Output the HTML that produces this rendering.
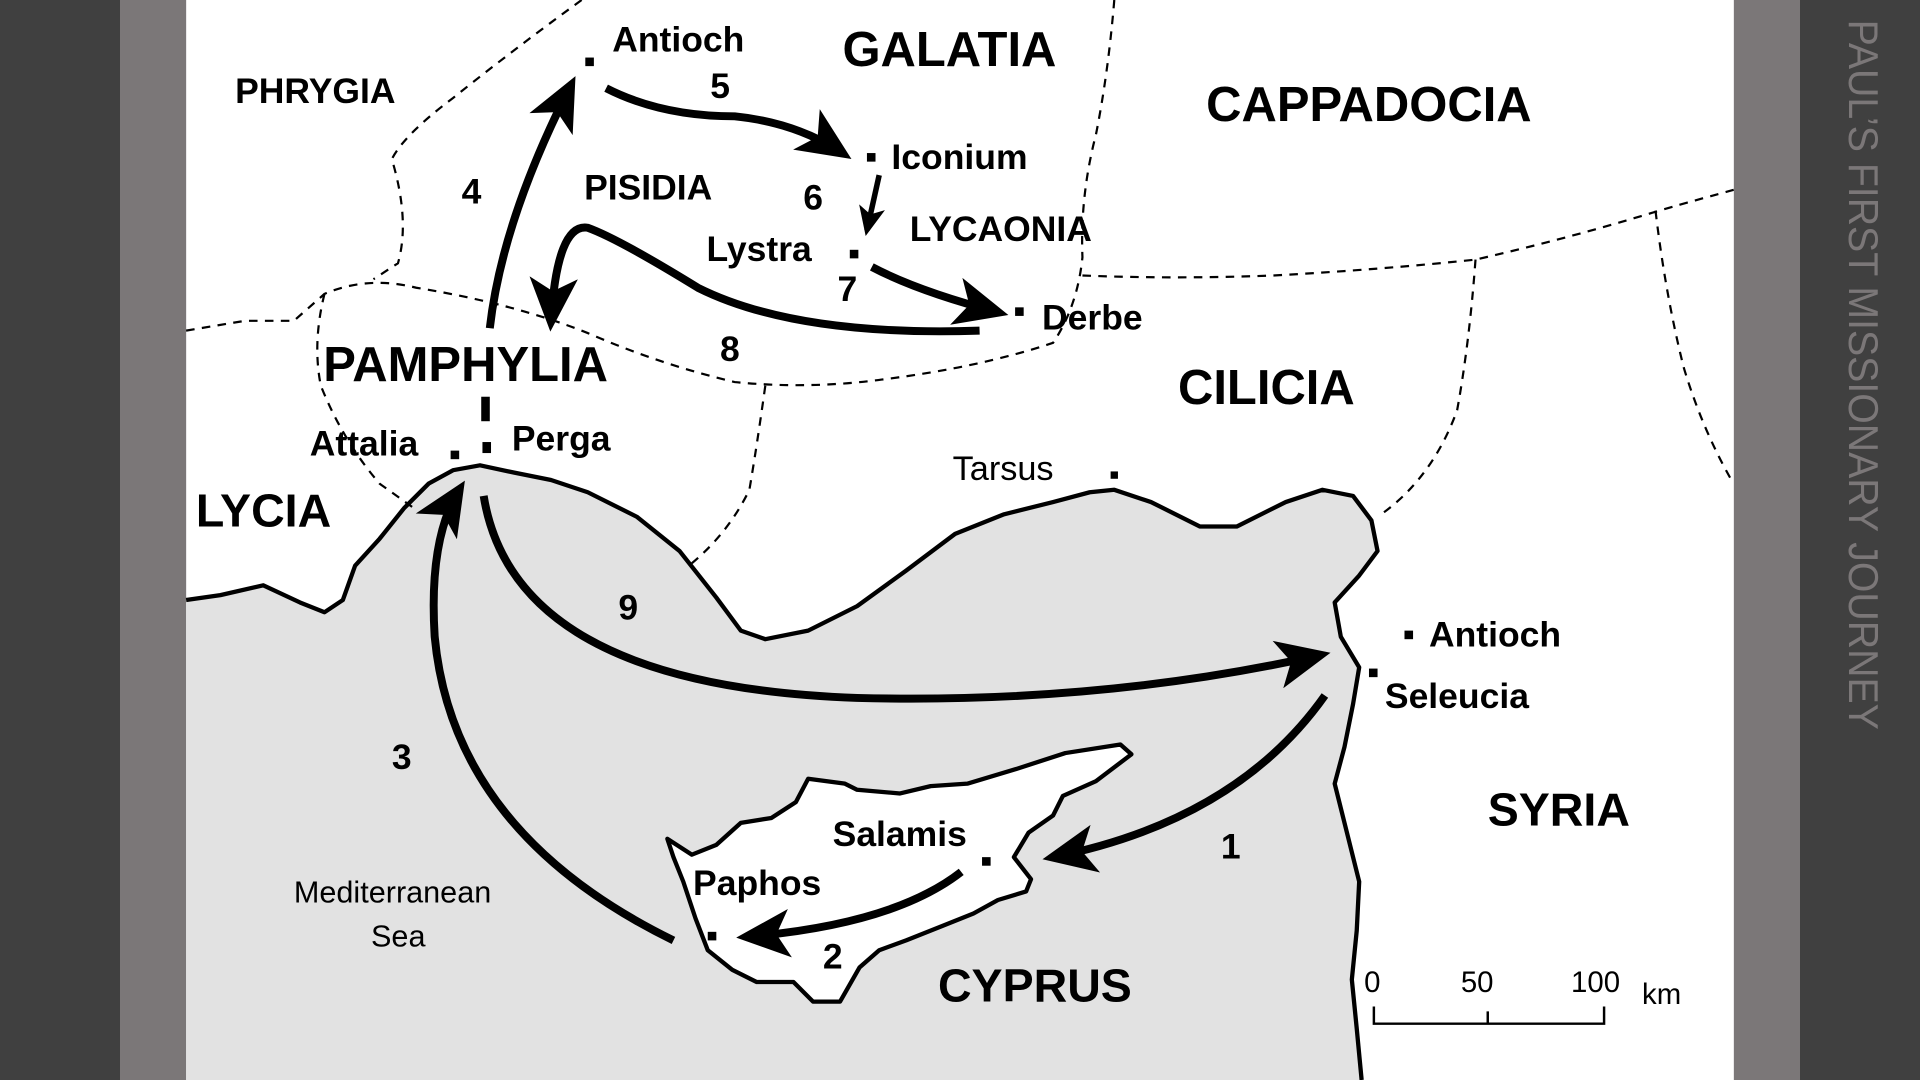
<!DOCTYPE html>
<html><head><meta charset="utf-8"><style>
html,body{margin:0;padding:0;background:#404040;}
svg{display:block}
text{font-family:"Liberation Sans",Arial,sans-serif;font-weight:bold;fill:#000}
.r{font-weight:normal}
</style></head><body>
<svg width="1920" height="1080" viewBox="0 0 1568 882" xmlns="http://www.w3.org/2000/svg">
<defs>
<marker id="ah" viewBox="0 0 10 10" refX="8" refY="5" markerWidth="44" markerHeight="44" orient="auto" markerUnits="userSpaceOnUse">
<path d="M0,0.5 L10,5 L0,9.5 L2.5,5 z" fill="#000"/>
</marker>
<marker id="ahs" viewBox="0 0 10 10" refX="8" refY="5" markerWidth="24" markerHeight="24" orient="auto" markerUnits="userSpaceOnUse">
<path d="M0,0.5 L10,5 L0,9.5 L2.5,5 z" fill="#000"/>
</marker>
</defs>
<rect x="0" y="0" width="1568" height="882" fill="#404040"/>
<rect x="98" y="0" width="54" height="882" fill="#7b7778"/>
<rect x="1416" y="0" width="54" height="882" fill="#7b7778"/>
<rect x="152" y="0" width="1264" height="882" fill="#fff"/>
<!-- sea -->
<path id="coast" d="M152,490 L180,486 L215,478 L245,492 L265,500 L280,490 L290,462 L310,440 L330,415 L350,395 L370,384 L392,380 L420,386 L450,392 L480,402 L520,422 L555,450 L585,488 L605,515 L625,522 L660,515 L700,495 L740,466 L780,436 L820,420 L860,410 L890,402 L910,400 L940,410 L980,430 L1010,430 L1050,410 L1080,400 L1105,405 L1120,425 L1125,450 L1110,470 L1090,492 L1095,520 L1110,545 L1105,575 L1098,610 L1090,640 L1100,680 L1110,720 L1108,760 L1104,800 L1108,840 L1112,882" fill="none"/>
<path d="M152,490 L180,486 L215,478 L245,492 L265,500 L280,490 L290,462 L310,440 L330,415 L350,395 L370,384 L392,380 L420,386 L450,392 L480,402 L520,422 L555,450 L585,488 L605,515 L625,522 L660,515 L700,495 L740,466 L780,436 L820,420 L860,410 L890,402 L910,400 L940,410 L980,430 L1010,430 L1050,410 L1080,400 L1105,405 L1120,425 L1125,450 L1110,470 L1090,492 L1095,520 L1110,545 L1105,575 L1098,610 L1090,640 L1100,680 L1110,720 L1108,760 L1104,800 L1108,840 L1112,882 L152,882 Z" fill="#e2e2e2"/>
<path d="M152,490 L180,486 L215,478 L245,492 L265,500 L280,490 L290,462 L310,440 L330,415 L350,395 L370,384 L392,380 L420,386 L450,392 L480,402 L520,422 L555,450 L585,488 L605,515 L625,522 L660,515 L700,495 L740,466 L780,436 L820,420 L860,410 L890,402 L910,400 L940,410 L980,430 L1010,430 L1050,410 L1080,400 L1105,405 L1120,425 L1125,450 L1110,470 L1090,492 L1095,520 L1110,545 L1105,575 L1098,610 L1090,640 L1100,680 L1110,720 L1108,760 L1104,800 L1108,840 L1112,882" fill="none" stroke="#000" stroke-width="3.5" stroke-linejoin="round"/>
<!-- Cyprus -->
<path d="M545,685 L565,698 L585,690 L605,672 L630,668 L650,655 L660,636 L690,640 L700,645 L735,648 L760,642 L790,640 L830,628 L870,615 L915,608 L924,616 L895,638 L868,650 L860,666 L840,680 L828,700 L842,718 L838,728 L815,735 L795,746 L770,756 L740,768 L718,776 L702,790 L686,818 L664,818 L648,802 L618,802 L598,792 L578,776 L568,750 L558,720 L550,700 Z" fill="#fff" stroke="#000" stroke-width="3.5" stroke-linejoin="round"/>
<!-- borders -->
<g fill="none" stroke="#000" stroke-width="1.8" stroke-dasharray="7,6">
<path d="M475,0 Q420,40 370,80 Q330,110 320,130 Q335,180 325,215 L305,228"/>
<path d="M152,270 L200,262 L240,262 L265,240 Q300,225 340,235 Q420,248 480,272 Q540,298 600,312 Q660,318 720,310 Q800,300 860,280 Q880,250 884,210 Q882,160 895,110 Q905,60 910,0"/>
<path d="M265,240 Q255,280 262,315 Q280,360 310,395 L338,415"/>
<path d="M625,315 Q618,365 612,400 Q595,435 565,460"/>
<path d="M884,225 Q960,228 1040,225 Q1130,220 1205,212 Q1280,195 1355,172 Q1390,162 1416,155"/>
<path d="M1205,212 Q1200,280 1190,335 Q1170,390 1128,420"/>
<path d="M1352,172 Q1360,240 1375,300 Q1390,350 1414,392"/>
</g>
<!-- arrows -->
<g fill="none" stroke="#000" stroke-width="6.5" stroke-linecap="butt">
<path d="M1082,568 Q1010,670 860,700" marker-end="url(#ah)"/>
<path d="M785,712 Q730,755 610,765" marker-end="url(#ah)"/>
<path d="M550,768 Q370,680 355,520 Q350,440 375,400" marker-end="url(#ah)"/>
<path d="M400,268 Q410,180 466,70" marker-end="url(#ah)"/>
<path d="M495,72 Q540,95 600,95 Q650,100 688,125" marker-end="url(#ah)"/>
<path d="M718,143 L708,188" marker-end="url(#ahs)" stroke-width="4.5"/>
<path d="M712,218 Q750,238 815,255" marker-end="url(#ah)"/>
<path d="M800,270 Q650,275 570,235 Q505,195 480,186 Q455,182 450,262" marker-end="url(#ah)"/>
<path d="M395,405 Q420,560 700,570 Q900,575 1078,535" marker-end="url(#ah)"/>
</g>
<!-- dashed route at Perga -->
<rect x="393" y="324" width="7" height="20" fill="#000"/>
<rect x="394" y="361" width="7" height="9" fill="#000"/>
<!-- city dots -->
<g fill="#000">
<rect x="478" y="47" width="7" height="7"/>
<rect x="708" y="125" width="7" height="7"/>
<rect x="694" y="204" width="7" height="7"/>
<rect x="829" y="251" width="7" height="7"/>
<rect x="368" y="368" width="7" height="7"/>
<rect x="907" y="385" width="6" height="6"/>
<rect x="1147" y="515" width="7" height="7"/>
<rect x="1118" y="546" width="7" height="7"/>
<rect x="802" y="700" width="7" height="7"/>
<rect x="578" y="761" width="7" height="7"/>
</g>
<!-- labels -->
<text x="192" y="84" font-size="29">PHRYGIA</text>
<text x="500" y="42" font-size="29">Antioch</text>
<text x="688" y="54" font-size="40">GALATIA</text>
<text x="985" y="99" font-size="40">CAPPADOCIA</text>
<text x="580" y="80" font-size="29">5</text>
<text x="377" y="166" font-size="29">4</text>
<text x="477" y="163" font-size="29">PISIDIA</text>
<text x="728" y="138" font-size="29">Iconium</text>
<text x="656" y="171" font-size="29">6</text>
<text x="743" y="197" font-size="29">LYCAONIA</text>
<text x="577" y="213" font-size="29">Lystra</text>
<text x="684" y="246" font-size="29">7</text>
<text x="851" y="269" font-size="29">Derbe</text>
<text x="588" y="295" font-size="29">8</text>
<text x="264" y="311" font-size="40">PAMPHYLIA</text>
<text x="962" y="330" font-size="40">CILICIA</text>
<text x="253" y="372" font-size="29">Attalia</text>
<text x="418" y="368" font-size="29">Perga</text>
<text x="160" y="430" font-size="38">LYCIA</text>
<text x="778" y="392" font-size="28" class="r">Tarsus</text>
<text x="505" y="506" font-size="29">9</text>
<text x="1167" y="528" font-size="29">Antioch</text>
<text x="1131" y="578" font-size="29">Seleucia</text>
<text x="320" y="628" font-size="29">3</text>
<text x="1215" y="674" font-size="38">SYRIA</text>
<text x="680" y="691" font-size="29">Salamis</text>
<text x="997" y="701" font-size="29">1</text>
<text x="566" y="731" font-size="29">Paphos</text>
<text x="240" y="737" font-size="25" class="r">Mediterranean</text>
<text x="303" y="773" font-size="25" class="r">Sea</text>
<text x="672" y="791" font-size="29">2</text>
<text x="766" y="818" font-size="38">CYPRUS</text>
<!-- scale -->
<text x="1114" y="810" font-size="24" class="r">0</text>
<text x="1193" y="810" font-size="24" class="r">50</text>
<text x="1283" y="810" font-size="24" class="r">100</text>
<text x="1341" y="820" font-size="24" class="r">km</text>
<path d="M1122,822 L1122,836 L1310,836 L1310,822 M1215,826 L1215,836" fill="none" stroke="#000" stroke-width="2"/>
<!-- title -->
<text transform="translate(1510,16) rotate(90)" font-size="34" class="r" style="fill:#7b7778" textLength="580" lengthAdjust="spacingAndGlyphs">PAUL’S FIRST MISSIONARY JOURNEY</text>
</svg>
</body></html>
